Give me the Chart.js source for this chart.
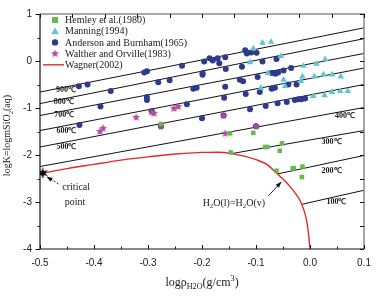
<!DOCTYPE html>
<html>
<head>
<meta charset="utf-8">
<script src="https://cdn.jsdelivr.net/npm/chart.js@4.4.0/dist/chart.umd.min.js"></script>
<style>
  html, body { margin: 0; padding: 0; background: #fff; }
</style>
</head>
<body>
<canvas id="chart" width="385" height="296"></canvas>
<script>
// Hemley et al.(1980) - green squares
const hemleyX = [-0.276, -0.148, -0.105, -0.147, -0.083, -0.079, -0.052, -0.056, -0.062, -0.032, -0.030, -0.014, -0.015];
const hemleyY = [-1.34, -1.54, -1.53, -1.945, -1.83, -1.83, -1.75, -1.91, -2.335, -2.28, -2.28, -2.245, -2.47];

// Manning(1994) - cyan triangles
const manningX = [-0.105, -0.088, -0.072, -0.111, -0.054, -0.078, -0.012, 0.012, 0.028, -0.091, -0.049, -0.046,
                  -0.014, -0.017, 0.008, 0.025, 0.041, 0.057, 0.006, 0.027, 0.041, 0.056, 0.070];
const manningY = [0.265, 0.385, 0.405, -0.03, 0.105, -0.257, -0.105, -0.063, 0.035, -0.57, -0.40, -0.536,
                  -0.33, -0.43, -0.33, -0.29, -0.29, -0.33, -0.745, -0.73, -0.66, -0.64, -0.64];

// Anderson and Burnham(1965) - navy circles
const andersonX = [-0.428, -0.412, -0.307, -0.302, -0.237, -0.196, -0.186, -0.180, -0.171, -0.168, -0.157, -0.120, -0.117, -0.109, -0.099,
                   -0.369, -0.281, -0.260, -0.199, -0.199, -0.156, -0.126, -0.088, -0.062,
                   -0.388, -0.302, -0.302, -0.216, -0.210, -0.157, -0.130, -0.124, -0.097, -0.071, -0.064, -0.059, -0.049, -0.035,
                   -0.427, -0.293, -0.228, -0.159, -0.119, -0.093, -0.071, -0.065, -0.040, -0.025,
                   -0.200, -0.111, -0.082, -0.060, -0.043, -0.028, -0.022, -0.016, -0.009,
                   -0.276, -0.160, -0.100];
const andersonY = [-0.536, -0.50, -0.243, -0.22, -0.10, -0.01, 0.056, 0.01, 0.056, -0.05, 0.08, 0.23, 0.16, 0.18, 0.176,
                   -0.64, -0.45, -0.41, -0.29, -0.26, -0.17, -0.12, -0.013, 0.045,
                   -0.97, -0.766, -0.83, -0.59, -0.57, -0.55, -0.40, -0.43, -0.34, -0.257, -0.27, -0.243, -0.20, -0.15,
                   -1.36, -1.07, -0.92, -0.78, -0.70, -0.66, -0.59, -0.57, -0.50, -0.50,
                   -1.22, -1.025, -0.955, -0.90, -0.87, -0.83, -0.815, -0.815, -0.80,
                   -1.39, -1.16, -1.39];

// Walther and Orville(1983) - purple stars
const waltherX = [-0.389, -0.383, -0.322, -0.293, -0.289, -0.252, -0.244, -0.157, -0.276, -0.160, -0.100];
const waltherY = [-1.50, -1.43, -1.20, -1.09, -1.115, -1.01, -0.97, -1.54, -1.39, -1.16, -1.39];

// Wagner(2002) liquid-vapour curve
const wagnerX = [-0.495, -0.45, -0.40, -0.35, -0.30, -0.25, -0.20, -0.17, -0.145, -0.12, -0.10, -0.08, -0.062, -0.045,
                 -0.035, -0.025, -0.018, -0.012, -0.007, -0.003, 0.0];
const wagnerY = [-2.385, -2.29, -2.20, -2.11, -2.04, -1.98, -1.945, -1.94, -1.97, -2.03, -2.10, -2.20, -2.385, -2.57,
                 -2.70, -2.85, -2.98, -3.15, -3.35, -3.65, -4.0];

// critical point
const criticalX = [-0.495];
const criticalY = [-2.385];

// isotherms
const isoNames = ['900℃', '800℃', '700℃', '600℃', '500℃', '400℃', '300℃', '200℃', '100℃'];
const isoX1 = [-0.5, -0.5, -0.5, -0.5, -0.5, -0.5, -0.145, -0.059, -0.0154];
const isoY1 = [-0.66, -0.906, -1.16, -1.48, -1.83, -2.245, -1.97, -2.40, -3.05];
const isoX2 = [0.1, 0.1, 0.1, 0.1, 0.1, 0.1, 0.1, 0.1, 0.1];
const isoY2 = [0.705, 0.475, 0.16, -0.15, -0.50, -0.99, -1.48, -2.01, -2.75];

const xTicks = [-0.5, -0.4, -0.3, -0.2, -0.1, 0.0, 0.1];
const yTicks = [1, 0, -1, -2, -3, -4];

const GREEN = '#66b94a', CYAN = '#5cc6d2', NAVY = '#2e3a8f', PURPLE = '#b04c9e', RED = '#e32a2a';
const SERIF = '"Liberation Serif", "Times New Roman", serif';
const SANS = '"Liberation Sans", Arial, sans-serif';

function makeStar(color, r, n, inner) {
  const c = document.createElement('canvas');
  const s = Math.ceil(r * 2 + 2);
  c.width = s; c.height = s;
  const g = c.getContext('2d');
  g.fillStyle = color;
  g.beginPath();
  for (let i = 0; i < n * 2; i++) {
    const a = -Math.PI / 2 + i * Math.PI / n;
    const rr = i % 2 ? r * inner : r;
    g.lineTo(s / 2 + rr * Math.cos(a), s / 2 + rr * Math.sin(a));
  }
  g.closePath();
  g.fill();
  return c;
}
const purpleStar = makeStar(PURPLE, 4.3, 5, 0.45);
const blackStar = makeStar('#000', 6, 6, 0.38);

const pts = (xs, ys) => xs.map((x, i) => ({ x: x, y: ys[i] }));

const datasets = [
  { label: 'Hemley et al.(1980)', data: pts(hemleyX, hemleyY), pointStyle: 'rect', pointRadius: 3.2,
    backgroundColor: GREEN, borderColor: GREEN, borderWidth: 0 },
  { label: 'Walther and Orville(1983)', data: pts(waltherX, waltherY), pointStyle: purpleStar },
  { label: 'Manning(1994)', data: pts(manningX, manningY), pointStyle: 'triangle', pointRadius: 3.8,
    backgroundColor: CYAN, borderColor: CYAN, borderWidth: 0 },
  { label: 'Anderson and Burnham(1965)', data: pts(andersonX, andersonY), pointStyle: 'circle', pointRadius: 3,
    backgroundColor: NAVY, borderColor: NAVY, borderWidth: 0 },
  { label: 'critical', data: pts(criticalX, criticalY), pointStyle: blackStar },
  { label: 'Wagner(2002)', data: pts(wagnerX, wagnerY), showLine: true, pointRadius: 0,
    borderColor: RED, borderWidth: 1.4, tension: 0.3, cubicInterpolationMode: 'monotone' }
];
isoNames.forEach((n, i) => {
  datasets.push({ label: n, data: [{ x: isoX1[i], y: isoY1[i] }, { x: isoX2[i], y: isoY2[i] }],
    showLine: true, pointRadius: 0, borderColor: '#111', borderWidth: 1 });
});

function richText(ctx, segs, x, y, size, align) {
  let w = 0;
  segs.forEach(s => {
    const fs = s.m === 'n' ? size : size * 0.68;
    ctx.font = fs + 'px ' + SERIF;
    s.w = ctx.measureText(s.t).width;
    s.fs = fs;
    w += s.w;
  });
  let cx = align === 'center' ? x - w / 2 : x;
  ctx.textBaseline = 'alphabetic';
  ctx.textAlign = 'left';
  segs.forEach(s => {
    ctx.font = s.fs + 'px ' + SERIF;
    const dy = s.m === 'sub' ? size * 0.28 : s.m === 'sup' ? -size * 0.42 : 0;
    ctx.fillText(s.t, cx, y + dy);
    cx += s.w;
  });
}

function arrow(ctx, x1, y1, x2, y2, dashed) {
  ctx.save();
  ctx.strokeStyle = '#111';
  ctx.fillStyle = '#111';
  ctx.lineWidth = 0.9;
  if (dashed) ctx.setLineDash([2, 1.5]);
  ctx.beginPath(); ctx.moveTo(x1, y1); ctx.lineTo(x2, y2); ctx.stroke();
  ctx.setLineDash([]);
  const a = Math.atan2(y2 - y1, x2 - x1), L = 6, W = 2.2;
  ctx.beginPath();
  ctx.moveTo(x2, y2);
  ctx.lineTo(x2 - L * Math.cos(a) + W * Math.sin(a), y2 - L * Math.sin(a) - W * Math.cos(a));
  ctx.lineTo(x2 - L * Math.cos(a) - W * Math.sin(a), y2 - L * Math.sin(a) + W * Math.cos(a));
  ctx.closePath(); ctx.fill();
  ctx.restore();
}

const tempLabelPos = [[-0.452, -0.62], [-0.456, -0.87], [-0.455, -1.14], [-0.451, -1.49], [-0.451, -1.83],
                      [0.065, -1.16], [0.040, -1.72], [0.040, -2.335], [0.049, -2.99]];

const decor = {
  id: 'decor',
  afterDraw(chart) {
    const ctx = chart.ctx, a = chart.chartArea, xs = chart.scales.x, ys = chart.scales.y;
    ctx.save();
    // frame
    ctx.lineWidth = 1.5;
    ctx.strokeStyle = '#8c8c8c';
    ctx.beginPath(); ctx.moveTo(a.left, a.top); ctx.lineTo(a.right, a.top); ctx.lineTo(a.right, a.bottom); ctx.stroke();
    ctx.strokeStyle = '#111';
    ctx.lineWidth = 1.2;
    ctx.beginPath(); ctx.moveTo(a.left, a.top); ctx.lineTo(a.left, a.bottom); ctx.lineTo(a.right, a.bottom); ctx.stroke();
    // ticks
    ctx.lineWidth = 1;
    ctx.beginPath();
    for (let i = 0; i <= 12; i++) {
      const p = Math.round(xs.getPixelForValue(-0.5 + i * 0.05)) + 0.5;
      ctx.moveTo(p, a.bottom); ctx.lineTo(p, a.bottom - (i % 2 ? 2.5 : 4));
    }
    for (let i = 0; i <= 10; i++) {
      const p = Math.round(xs.getPixelForValue(-0.5 + i * 0.06)) + 0.5;
      ctx.moveTo(p, a.top); ctx.lineTo(p, a.top + 4);
    }
    for (let i = 0; i <= 10; i++) {
      const v = 1 - i * 0.5, p = Math.round(ys.getPixelForValue(v)) + 0.5;
      ctx.moveTo(a.left, p); ctx.lineTo(a.left - (i % 2 ? 2.5 : 4.5), p);
      ctx.moveTo(a.right, p); ctx.lineTo(a.right - 4, p);
    }
    ctx.stroke();

    // axis titles
    ctx.fillStyle = '#1a1a1a';
    ctx.save();
    ctx.translate(10, (a.top + a.bottom) / 2 + 4);
    ctx.rotate(-Math.PI / 2);
    richText(ctx, [{ t: 'logK=logmSiO', m: 'n' }, { t: '2', m: 'sub' }, { t: '(aq)', m: 'n' }], 0, 0, 10, 'center');
    ctx.restore();
    richText(ctx, [{ t: 'logρ', m: 'n' }, { t: 'H2O', m: 'sub' }, { t: '(g/cm', m: 'n' }, { t: '3', m: 'sup' }, { t: ')', m: 'n' }],
      (a.left + a.right) / 2 + 0, a.bottom + 37, 12, 'center');

    // isotherm labels
    ctx.font = 'bold 8px ' + SERIF;
    ctx.textAlign = 'center';
    ctx.textBaseline = 'middle';
    isoNames.forEach((n, i) => {
      ctx.fillText(n, xs.getPixelForValue(tempLabelPos[i][0]), ys.getPixelForValue(tempLabelPos[i][1]));
    });

    // annotations
    ctx.font = '10px ' + SERIF;
    ctx.fillText('critical', xs.getPixelForValue(-0.433), ys.getPixelForValue(-2.685));
    ctx.fillText('point', xs.getPixelForValue(-0.435), ys.getPixelForValue(-3.0));
    arrow(ctx, xs.getPixelForValue(-0.466), ys.getPixelForValue(-2.615), xs.getPixelForValue(-0.488), ys.getPixelForValue(-2.46), true);
    richText(ctx, [{ t: 'H', m: 'n' }, { t: '2', m: 'sub' }, { t: 'O(l)=H', m: 'n' }, { t: '2', m: 'sub' }, { t: 'O(v)', m: 'n' }],
      xs.getPixelForValue(-0.141), ys.getPixelForValue(-3.0) + 3.5, 10, 'center');
    arrow(ctx, xs.getPixelForValue(-0.077), ys.getPixelForValue(-2.87), xs.getPixelForValue(-0.053), ys.getPixelForValue(-2.57), false);

    // legend
    const items = [
      { t: 'Hemley et al.(1980)', s: 'rect', c: GREEN },
      { t: 'Manning(1994)', s: 'tri', c: CYAN },
      { t: 'Anderson and Burnham(1965)', s: 'circle', c: NAVY },
      { t: 'Walther and Orville(1983)', s: 'star', c: PURPLE },
      { t: 'Wagner(2002)', s: 'line', c: RED }
    ];
    ctx.font = '10px ' + SERIF;
    ctx.textAlign = 'left';
    ctx.textBaseline = 'middle';
    items.forEach((it, i) => {
      const y = a.top + 6 + i * 11.2, mx = a.left + 15;
      ctx.fillStyle = it.c;
      if (it.s === 'rect') ctx.fillRect(mx - 3, y - 3, 6, 6);
      else if (it.s === 'tri') { ctx.beginPath(); ctx.moveTo(mx, y - 3.8); ctx.lineTo(mx + 3.8, y + 2.8); ctx.lineTo(mx - 3.8, y + 2.8); ctx.closePath(); ctx.fill(); }
      else if (it.s === 'circle') { ctx.beginPath(); ctx.arc(mx, y, 3.2, 0, Math.PI * 2); ctx.fill(); }
      else if (it.s === 'star') ctx.drawImage(purpleStar, mx - purpleStar.width / 2, y - purpleStar.height / 2);
      else { ctx.strokeStyle = it.c; ctx.lineWidth = 1.4; ctx.beginPath(); ctx.moveTo(mx - 12, y); ctx.lineTo(mx + 9, y); ctx.stroke(); }
      ctx.fillStyle = '#1a1a1a';
      ctx.fillText(it.t, a.left + 25, y + 0.5);
    });
    ctx.restore();
  }
};

new Chart(document.getElementById('chart'), {
  type: 'scatter',
  data: { datasets: datasets },
  options: {
    responsive: false,
    animation: false,
    layout: { padding: { top: 10, right: 21, left: 0, bottom: 0 } },
    plugins: { legend: { display: false }, tooltip: { enabled: false } },
    scales: {
      x: {
        type: 'linear', min: -0.5, max: 0.1,
        grid: { display: false, drawTicks: false },
        border: { display: false },
        afterBuildTicks: s => { s.ticks = xTicks.map(v => ({ value: v })); },
        ticks: { padding: 8, color: '#222', font: { family: SANS, size: 10 },
          callback: v => (Math.abs(v) < 1e-9 ? 0 : v).toFixed(1) },
        afterFit: s => { s.height = 47; }
      },
      y: {
        type: 'linear', min: -4, max: 1,
        grid: { display: false, drawTicks: false },
        border: { display: false },
        afterBuildTicks: s => { s.ticks = yTicks.map(v => ({ value: v })); },
        ticks: { padding: 8, color: '#222', font: { family: SANS, size: 10 },
          callback: v => String(Math.round(v)) },
        afterFit: s => { s.width = 40; }
      }
    }
  },
  plugins: [decor]
});
</script>
</body>
</html>
